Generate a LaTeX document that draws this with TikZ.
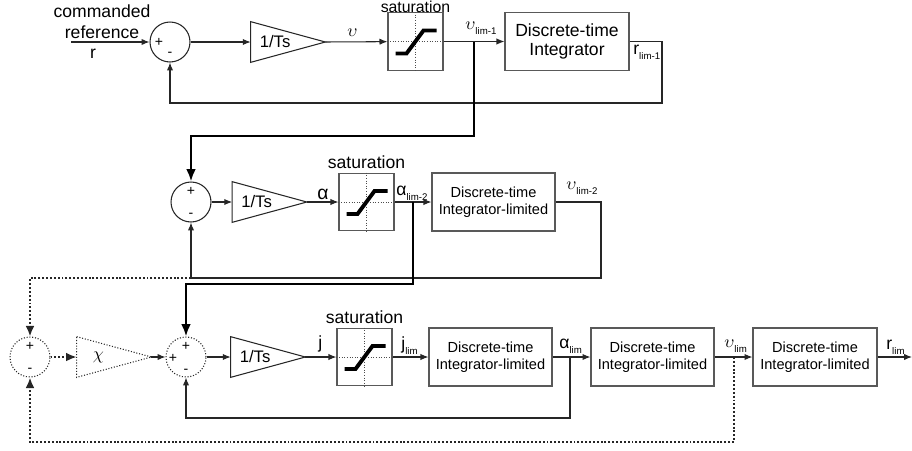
\documentclass[tikz,border=0pt]{standalone}
\usepackage{fontspec}
\setmainfont{Liberation Sans}
\usetikzlibrary{positioning,arrows.meta}

% small "lim" subscripts
\newcommand\sublim[1]{\raisebox{-0.6ex}{\fontsize{5.5}{6}\selectfont #1}}
% saturation icon inside a box node
\newcommand\satsym[1]{%
  \draw[densely dotted, black!70, line width=0.5pt] (#1.west) -- (#1.east) (#1.north) -- (#1.south);
  \draw[black, line width=2.2pt] ([shift={(-20,12)}]#1.center) -- ++(11,0) -- ++(17,-23) -- ++(13,0);}
% gain triangle on a gain node
\newcommand\gaintri[2][]{%
  \draw[black!85, line width=0.6pt, #1] (#2.north west) -- (#2.east) -- (#2.south west) -- cycle;}

\begin{document}
\begin{tikzpicture}[x=0.02cm, y=-0.02cm, >={Latex[length=4.5pt,width=3.6pt]},
  line/.style={black!85, line width=0.6pt},
  fat/.style={black, line width=1.3pt, >={Latex[length=7pt,width=5.5pt]}},
  dots/.style={black!85, line width=1.1pt, dash pattern=on 1.1pt off 1.1pt, >={Latex[length=6pt,width=5pt]}},
  sum/.style={circle, draw=black!85, line width=0.6pt, minimum size=0.8cm, inner sep=0pt},
  gain/.style={minimum width=1.48cm, minimum height=0.8cm, inner sep=0pt},
  satbox/.style={draw=black!65, line width=0.7pt, minimum width=1.1cm, minimum height=1.15cm, inner sep=0pt},
  integ/.style={draw=black!65, line width=0.7pt, minimum width=2.46cm, minimum height=1.16cm,
    align=center, font=\fontsize{8.3}{9.8}\selectfont},
  sign/.style={font=\fontsize{8}{9}\selectfont, inner sep=0pt},
  sig/.style={inner sep=0pt, anchor=base west},
  txt/.style={inner sep=0pt, font=\fontsize{9.5}{11}\selectfont},
]
\useasboundingbox (0,0) rectangle (912,450);

% first loop
\node[align=center, inner sep=0pt] (cmdref) at (102,22) {commanded\\reference};
\node[inner sep=0pt] (rin) at (93,54) {r};
\coordinate (in) at (71,42);
\node[sum] (s1) at (170,42) {};
\node[sign] (s1p) at (159,42) {+};
\node[sign] (s1m) at (170,54) {-};
\node[gain] (g1) at (288,42) {};
\gaintri{g1}
\node[txt, right=5pt of g1.west] (g1t) {1/Ts};
\node[satbox] (sat1) at (415.5,41.5) {};
\satsym{sat1}
\node[anchor=base, inner sep=0pt, font=\fontsize{9}{10}\selectfont] (sat1l) at (415.5,12) {saturation};
\node[integ, font=\fontsize{10}{10.5}\selectfont, minimum width=2.48cm] (int1) at (567,41.5) {Discrete-time\\Integrator};

\node[sig] (v1) at (347,36) {$\upsilon$};
\node[sig] (vl1) at (465,29) {$\upsilon$\sublim{lim-1}};
\node[sig] (rl1) at (633,54) {r\sublim{lim-1}};

\draw[line,->] (in) -- (s1);
\draw[line,->] (s1) -- (g1.west);
\draw[line,->] (g1.east) -- (sat1);
\draw[line,->] (sat1) -- (int1);
\coordinate (k2) at (662,103);
\draw[line,->] (int1.east) -| (k2) -| (s1);

% second loop
\node[sum] (s2) at (191,202) {};
\node[sign] (s2p) at (191,191) {+};
\node[sign] (s2m) at (191,215) {-};
\node[gain] (g2) at (269.5,202) {};
\gaintri{g2}
\node[txt, right=5pt of g2.west] (g2t) {1/Ts};
\node[satbox] (sat2) at (366.5,202) {};
\satsym{sat2}
\node[above=2pt of sat2, inner sep=0pt] (sat2l) {saturation};
\node[integ] (int2) at (493.5,202) {Discrete-time\\Integrator-limited};

\node[sig, font=\fontsize{11}{12}\selectfont] (a1) at (317,199) {α};
\node[sig] (al2) at (396,195) {α\sublim{lim-2}};
\node[sig] (vl2) at (566,189) {$\upsilon$\sublim{lim-2}};

\coordinate (b1) at (474,42);
\coordinate (k1) at (474,136);
\draw[fat,->] (b1) -- (k1) -| (s2);
\draw[line,->] (s2) -- (g2.west);
\draw[line,->] (g2.east) -- (sat2);
\draw[line,->] (sat2) -- (int2);
\coordinate (k4) at (601,278);
\draw[line,->] (int2.east) -| (k4) -| (s2);

% third loop
\node[sum, densely dotted] (s4) at (30,357) {};
\node[sign] (s4p) at (30,346) {+};
\node[sign] (s4m) at (30,370) {-};
\node[gain] (chi) at (114,357) {};
\gaintri[densely dotted]{chi}
\node[inner sep=0pt, right=9pt of chi.west] (chit) {$\chi$};
\node[sum, densely dotted] (s3) at (186,357) {};
\node[sign] (s3l) at (173,358) {+};
\node[sign] (s3p) at (186,346) {+};
\node[sign] (s3m) at (186,371) {-};
\node[gain] (g3) at (268,357) {};
\gaintri{g3}
\node[txt, right=5pt of g3.west] (g3t) {1/Ts};
\node[satbox] (sat3) at (364.5,357) {};
\satsym{sat3}
\node[above=2pt of sat3, inner sep=0pt] (sat3l) {saturation};
\node[integ] (int3) at (490.5,357) {Discrete-time\\Integrator-limited};
\node[integ] (int4) at (652.5,357) {Discrete-time\\Integrator-limited};
\node[integ, minimum width=2.48cm] (int5) at (815,357) {Discrete-time\\Integrator-limited};

\node[sig] (j1) at (318,348) {j};
\node[sig] (jl) at (401,349) {j\sublim{lim}};
\node[sig] (al) at (559,348) {α\sublim{lim}};
\node[sig] (vl) at (724,347) {$\upsilon$\sublim{lim}};
\node[sig] (rl) at (886,349) {r\sublim{lim}};

\coordinate (b2) at (413,202);
\coordinate (k3) at (413,284);
\draw[fat,->] (b2) -- (k3) -| (s3);
\coordinate (k5) at (191,278);
\draw[dots,->] (k5) -| (s4);
\draw[dots,->] (s4) -- (chi.west);
\draw[line,->] (chi.east) -- (s3);
\draw[line,->] (s3) -- (g3.west);
\draw[line,->] (g3.east) -- (sat3);
\draw[line,->] (sat3) -- (int3);
\draw[line,->] (int3) -- (int4);
\draw[line,->] (int4) -- (int5);
\coordinate (out) at (912,357);
\draw[line,->] (int5) -- (out);
\coordinate (b3) at (570,357);
\coordinate (k6) at (570,418);
\draw[line,->] (b3) -- (k6) -| (s3);
\coordinate (b4) at (734,357);
\coordinate (k7) at (734,442);
\draw[dots,->] (b4) -- (k7) -| (s4);
\end{tikzpicture}
\end{document}
